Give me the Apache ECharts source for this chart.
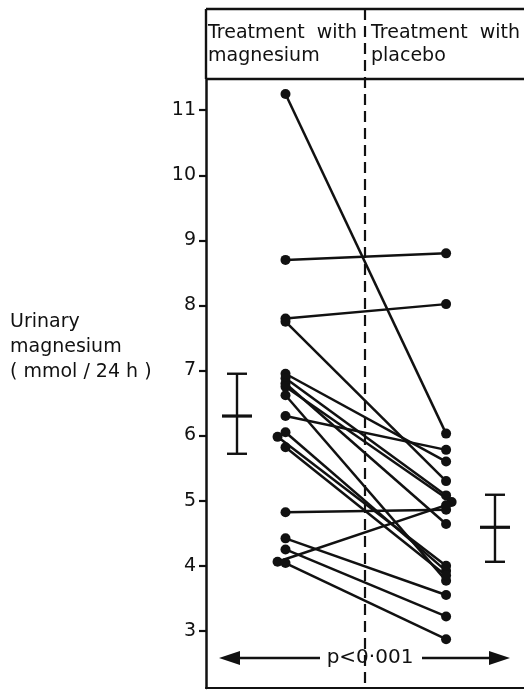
<!DOCTYPE html>
<html lang="en">
<head>
    <meta charset="UTF-8">
    <title>Urinary magnesium</title>
    <script src="https://cdn.jsdelivr.net/npm/echarts@6/dist/echarts.min.js"></script>
    <style>
        html, body { margin: 0; padding: 0; background: #fff; }
    </style>
</head>
<body>
    <div id="ec" style="width:524px;height:690px"></div>
<script>
    // paired values, mmol/24 h
    var magnesium = [11.25, 8.7, 7.8, 7.75, 6.95, 6.88, 6.8, 6.75, 6.62, 6.3, 6.05, 5.98, 5.82, 4.82, 4.42, 4.25, 4.06, 4.04]
    var placebo   = [6.03, 8.8, 8.02, 5.3, 5.6, 5.08, 4.64, 4.98, 3.77, 5.78, 3.92, 4.0, 3.85, 4.86, 3.55, 3.22, 4.93, 2.87]
    // points drawn slightly aside in the original because they overlap
    var shiftedLeft = [11, 16]
    var shiftedRight = [7]

    var groupNames = ['Treatment  with\nmagnesium', 'Treatment  with\nplacebo']
    var meanValues = [6.3, 4.59]
    var lowValues = [5.72, 4.06]
    var highValues = [6.95, 5.09]

    var yTicks = [3, 4, 5, 6, 7, 8, 9, 10, 11]
    var yTitle = 'Urinary\nmagnesium\n( mmol / 24 h )'
    var pText = 'p<0·001'

    var font = 'DejaVu Sans'
    var ink = '#111'

    // x positions of the columns
    var xMag = 1, xPla = 3.02, xDivide = 2, xMeanMag = 0.39, xMeanPla = 3.635

    var ech = document.getElementById('ec')
    var mychart = echarts.init(ech)

    var series = []
    for (var i = 0; i < magnesium.length; i++) {
        var xl = shiftedLeft.indexOf(i) >= 0 ? xMag - 0.1 : xMag
        var xr = shiftedRight.indexOf(i) >= 0 ? xPla + 0.07 : xPla
        series.push({
            type: 'line',
            data: [[xl, magnesium[i]], [xr, placebo[i]]],
            symbol: 'circle',
            symbolSize: 10,
            itemStyle: { color: ink },
            lineStyle: { color: ink, width: 2.5 },
            silent: true,
            z: 3
        })
    }

    series.push({
        type: 'custom',
        data: [[xMeanMag, meanValues[0], lowValues[0], highValues[0]],
               [xMeanPla, meanValues[1], lowValues[1], highValues[1]]],
        renderItem: function (params, api) {
            var m = api.coord([api.value(0), api.value(1)])
            var lo = api.coord([api.value(0), api.value(2)])
            var hi = api.coord([api.value(0), api.value(3)])
            var st = { stroke: ink, lineWidth: 2.4 }
            return {
                type: 'group',
                children: [
                    { type: 'line', shape: { x1: m[0], y1: lo[1], x2: m[0], y2: hi[1] }, style: st },
                    { type: 'line', shape: { x1: m[0] - 10, y1: lo[1], x2: m[0] + 10, y2: lo[1] }, style: st },
                    { type: 'line', shape: { x1: m[0] - 10, y1: hi[1], x2: m[0] + 10, y2: hi[1] }, style: st },
                    { type: 'line', shape: { x1: m[0] - 15, y1: m[1], x2: m[0] + 15, y2: m[1] }, style: { stroke: ink, lineWidth: 3.2 } }
                ]
            }
        },
        silent: true
    })

    var options = {
        animation: false,
        backgroundColor: '#fff',
        grid: { left: 206, right: 0, top: 79, bottom: 2 },
        xAxis: {
            type: 'value',
            min: 0,
            max: 4,
            axisLine: { show: true, onZero: false, lineStyle: { color: ink, width: 2.2 } },
            axisTick: { show: false },
            axisLabel: { show: false },
            splitLine: { show: false }
        },
        yAxis: {
            type: 'value',
            min: 2.12,
            max: 11.48,
            axisLine: { show: true, lineStyle: { color: ink, width: 2.5 } },
            axisTick: { show: true, length: 7, customValues: yTicks, lineStyle: { color: ink, width: 2.2 } },
            axisLabel: { customValues: yTicks, color: ink, fontFamily: font, fontSize: 19, margin: 10 },
            splitLine: { show: false }
        },
        series: series
    }
    mychart.setOption(options)

    // frame, header, divider and the p-value arrow
    var gx = mychart.convertToPixel({ xAxisIndex: 0 }, xDivide)
    var gLeft = mychart.convertToPixel({ xAxisIndex: 0 }, 0)
    var gRight = mychart.convertToPixel({ xAxisIndex: 0 }, 4)
    var yArrow = mychart.convertToPixel({ yAxisIndex: 0 }, 2.58)
    var frameTop = 9, headBottom = 79, frameBottom = 688
    var lineSt = { stroke: ink, lineWidth: 2.4 }

    function label(x, y, text, size, extra) {
        var st = { text: text, fill: ink, fontFamily: font, fontSize: size, lineHeight: Math.round(size * 1.35) }
        for (var k in extra) st[k] = extra[k]
        return { type: 'text', x: x, y: y, style: st }
    }

    mychart.setOption({
        graphic: [
            { type: 'line', shape: { x1: gLeft, y1: frameTop, x2: gRight, y2: frameTop }, style: lineSt },
            { type: 'line', shape: { x1: gLeft, y1: headBottom, x2: gRight, y2: headBottom }, style: lineSt },
            { type: 'line', shape: { x1: gLeft, y1: frameTop, x2: gLeft, y2: headBottom }, style: lineSt },
            { type: 'line', shape: { x1: gx, y1: frameTop, x2: gx, y2: frameBottom }, style: { stroke: ink, lineWidth: 2.2, lineDash: [11, 6] } },
            label(gLeft + 2, 22, groupNames[0], 19, { lineHeight: 23 }),
            label(gx + 6, 22, groupNames[1], 19, { lineHeight: 23 }),
            label(10, 310, yTitle, 19, { lineHeight: 25 }),
            // arrow
            { type: 'line', shape: { x1: gLeft + 25, y1: yArrow, x2: gx - 45, y2: yArrow }, style: lineSt },
            { type: 'line', shape: { x1: gx + 57, y1: yArrow, x2: gRight - 30, y2: yArrow }, style: lineSt },
            { type: 'polygon', shape: { points: [[gLeft + 13, yArrow], [gLeft + 34, yArrow - 7], [gLeft + 34, yArrow + 7]] }, style: { fill: ink } },
            { type: 'polygon', shape: { points: [[gRight - 14, yArrow], [gRight - 35, yArrow - 7], [gRight - 35, yArrow + 7]] }, style: { fill: ink } },
            label(gx + 5, yArrow, pText, 20, { align: 'center', verticalAlign: 'middle' })
        ]
    })
</script>
</body>
</html>
